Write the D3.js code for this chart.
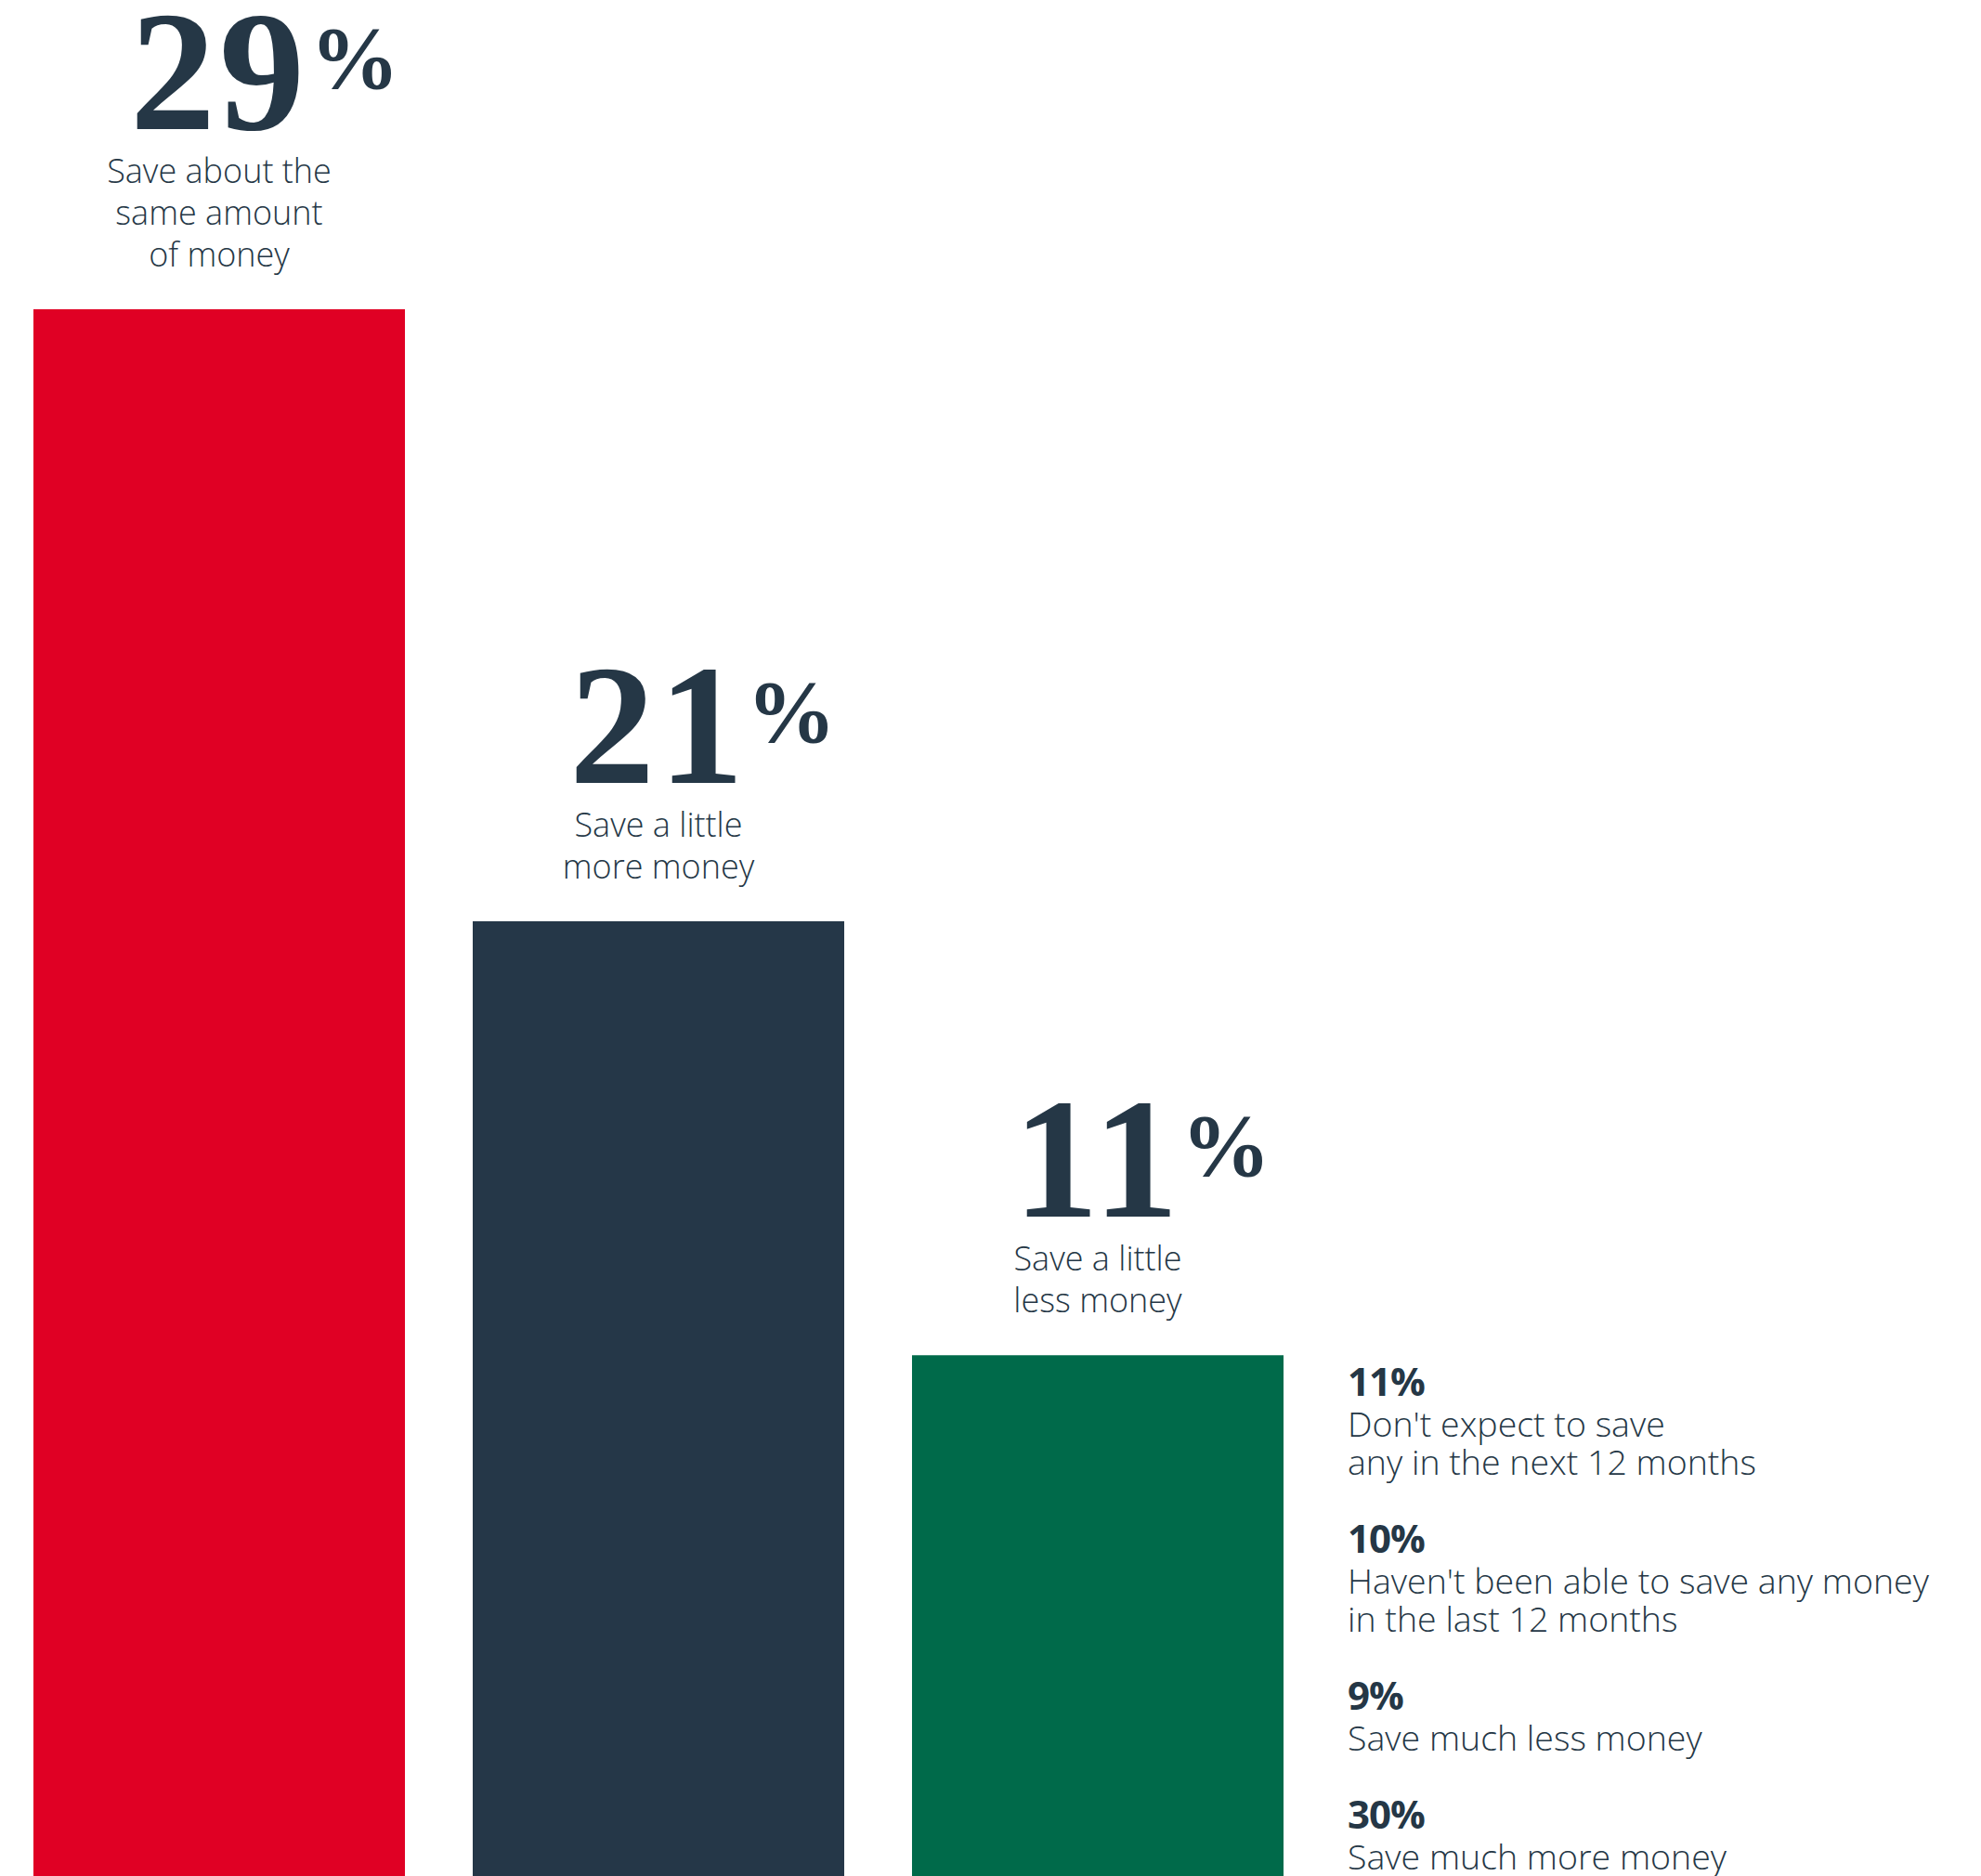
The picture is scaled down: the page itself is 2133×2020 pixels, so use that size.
<!DOCTYPE html>
<html>
<head>
<meta charset="utf-8">
<script src="https://cdn.jsdelivr.net/npm/d3@7"></script>
<style>
  html, body { margin: 0; padding: 0; background: #ffffff; }
  svg { display: block; }
</style>
</head>
<body>
<svg id="chart"></svg>
<script>
// Headline categories drawn as bars
const barValues = [29, 21, 11];
const barLabels = [
  ["Save about the", "same amount", "of money"],
  ["Save a little", "more money"],
  ["Save a little", "less money"]
];
const barColors = ["#e00024", "#253748", "#006a4a"];

// Remaining answers listed beside the bars
const sideValues = [11, 10, 9, 30];
const sideLabels = [
  ["Don't expect to save", "any in the next 12 months"],
  ["Haven't been able to save any money", "in the last 12 months"],
  ["Save much less money"],
  ["Save much more money"]
];

const W = 2133, H = 2020;
const ink = "#253746";

const svg = d3.select("#chart").attr("width", W).attr("height", H);

const x = d3.scaleBand()
  .domain(d3.range(barValues.length))
  .range([36, 1382])
  .paddingInner(0.1543)
  .paddingOuter(0);

// Stepped display scale for the bar heights
const y = d3.scalePow().exponent(2.28)
  .domain([0, 29])
  .range([1598, 333]);

const bars = svg.append("g");
bars.selectAll("rect")
  .data(barValues)
  .join("rect")
  .attr("x", (d, i) => x(i))
  .attr("y", d => y(d))
  .attr("width", x.bandwidth())
  .attr("height", d => H - y(d))
  .attr("fill", (d, i) => barColors[i]);

const labelFont = "'Open Sans', Lato, 'DejaVu Sans', sans-serif";
const numFont = "'Liberation Serif', 'DejaVu Serif', serif";
const numSize = 184, numTrack = 4;
const lineGap = 45;

// Measures the right side bearing of the last digit so the % sits by its ink
const ctx = document.createElement("canvas").getContext("2d");
ctx.font = `700 ${numSize}px ${numFont}`;
function rightBearing(ch) {
  const m = ctx.measureText(ch);
  return m.width - m.actualBoundingBoxRight;
}

barValues.forEach((v, i) => {
  const cx = x(i) + x.bandwidth() / 2;
  const top = y(v);
  const lines = barLabels[i];
  const lastBase = top - 46;
  const firstBase = lastBase - (lines.length - 1) * lineGap;
  const numBase = firstBase - 58;

  const g = svg.append("g");
  g.selectAll("text.lbl")
    .data(lines)
    .join("text")
    .attr("class", "lbl")
    .attr("x", cx)
    .attr("y", (d, j) => firstBase + j * lineGap)
    .attr("text-anchor", "middle")
    .attr("font-family", labelFont)
    .attr("font-weight", 300)
    .attr("font-size", 36)
    .attr("fill", ink)
    .text(d => d);

  const str = String(v);
  const num = g.append("text")
    .attr("x", cx)
    .attr("y", numBase)
    .attr("text-anchor", "middle")
    .attr("font-family", numFont)
    .attr("font-weight", 700)
    .attr("font-size", numSize)
    .attr("letter-spacing", numTrack)
    .attr("fill", ink)
    .text(str);
  const bb = num.node().getBBox();
  const inkRight = bb.x + bb.width - numTrack - rightBearing(str[str.length - 1]);

  g.append("text")
    .attr("x", inkRight + 12)
    .attr("y", numBase - 44)
    .attr("font-family", numFont)
    .attr("font-weight", 700)
    .attr("font-size", 96)
    .attr("fill", ink)
    .text("%");
});

// Side list
const sideX = 1451;
const sideFont = "'Open Sans', 'Noto Sans', 'DejaVu Sans', sans-serif";
let base = 1503;
const side = svg.append("g");
sideValues.forEach((v, i) => {
  side.append("text")
    .attr("x", sideX)
    .attr("y", base)
    .attr("font-family", sideFont)
    .attr("font-weight", 700)
    .attr("font-size", 42)
    .attr("letter-spacing", -1)
    .attr("fill", ink)
    .text(v + "%");
  let b = base + 44;
  sideLabels[i].forEach((line, j) => {
    side.append("text")
      .attr("x", sideX)
      .attr("y", b)
      .attr("font-family", sideFont)
      .attr("font-weight", 300)
      .attr("font-size", 37.5)
      .attr("fill", ink)
      .text(line);
    if (j < sideLabels[i].length - 1) b += 41;
  });
  base = b + 84;
});
</script>
</body>
</html>
